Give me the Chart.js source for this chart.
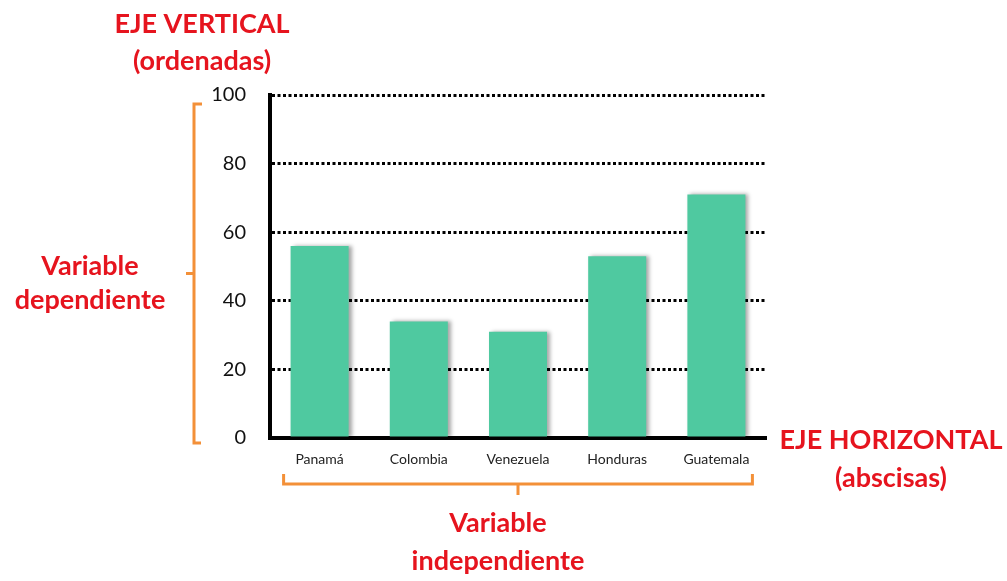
<!DOCTYPE html>
<html lang="es">
<head>
<meta charset="utf-8">
<title>Ejes de un gráfico de barras</title>
<script src="https://cdn.jsdelivr.net/npm/chart.js@4"></script>
<style>
  html, body { margin: 0; padding: 0; background: #fff; }
  #wrap { position: relative; width: 1007px; height: 581px; }
</style>
</head>
<body>
<div id="wrap"><canvas id="chart"></canvas></div>
<script>
// Data
const countries = ['Panamá', 'Colombia', 'Venezuela', 'Honduras', 'Guatemala'];
const values = [56, 34, 31, 53, 71];
const yTicks = [0, 20, 40, 60, 80, 100];

const RED = '#e6141e';
const ORANGE = '#f39038';
const BAR = '#4fc9a0';

// Soft shadow on the right side of each bar
const barShadow = {
    id: 'barShadow',
    beforeDatasetsDraw(chart) {
        const ctx = chart.ctx;
        ctx.save();
        ctx.shadowColor = 'rgba(0,0,0,0.35)';
        ctx.shadowBlur = 4;
        ctx.shadowOffsetX = 3;
        ctx.shadowOffsetY = 0;
    },
    afterDatasetsDraw(chart) {
        chart.ctx.restore();
    }
};

// Red labels and orange brackets around the axes
const axisNotes = {
    id: 'axisNotes',
    afterDraw(chart) {
        const ctx = chart.ctx;
        const x = chart.scales.x;
        const y = chart.scales.y;

        ctx.save();
        ctx.fillStyle = RED;
        ctx.textAlign = 'center';
        ctx.textBaseline = 'middle';
        ctx.font = 'bold 27px Lato, "Open Sans", sans-serif';

        const lines = [
            ['EJE VERTICAL', 202, 24],
            ['(ordenadas)', 202, 61],
            ['Variable', 90, 266],
            ['dependiente', 90, 300],
            ['EJE HORIZONTAL', 891, 440],
            ['(abscisas)', 891, 478],
            ['Variable', 498, 523],
            ['independiente', 498, 561]
        ];
        lines.forEach(([text, tx, ty]) => ctx.fillText(text, tx, ty));

        // vertical bracket next to the value axis
        ctx.strokeStyle = ORANGE;
        ctx.lineWidth = 3;
        const bx = 194;
        const top = y.getPixelForValue(100) + 9;
        const bottom = y.getPixelForValue(0) + 5;
        const mid = (top + bottom) / 2;
        ctx.beginPath();
        ctx.moveTo(bx + 8, top);
        ctx.lineTo(bx, top);
        ctx.lineTo(bx, bottom);
        ctx.lineTo(bx + 7, bottom);
        ctx.moveTo(bx, mid);
        ctx.lineTo(bx - 8, mid);
        ctx.stroke();

        // horizontal bracket under the category labels
        const by = 484;
        const left = x.getPixelForValue(0) - 36;
        const right = x.getPixelForValue(countries.length - 1) + 36;
        const cx = (left + right) / 2;
        ctx.beginPath();
        ctx.moveTo(left, by - 10);
        ctx.lineTo(left, by);
        ctx.lineTo(right, by);
        ctx.lineTo(right, by - 10);
        ctx.moveTo(cx, by);
        ctx.lineTo(cx, by + 11);
        ctx.stroke();
        ctx.restore();
    }
};

new Chart(document.getElementById('chart'), {
    type: 'bar',
    data: {
        labels: countries,
        datasets: [{
            data: values,
            backgroundColor: BAR,
            borderWidth: 0,
            barPercentage: 0.585,
            categoryPercentage: 1
        }]
    },
    options: {
        responsive: true,
        maintainAspectRatio: false,
        animation: false,
        layout: {
            padding: { top: 95, right: 241, bottom: 0, left: 0 }
        },
        plugins: {
            legend: { display: false },
            tooltip: { enabled: false }
        },
        scales: {
            x: {
                grid: { display: false, drawTicks: false },
                border: { display: true, color: '#000', width: 4 },
                ticks: {
                    color: '#222',
                    padding: 13,
                    font: { family: 'Lato, "Open Sans", sans-serif', size: 14 }
                },
                afterFit(scale) { scale.height = 143; }
            },
            y: {
                min: 0,
                max: 100,
                afterBuildTicks(scale) {
                    scale.ticks = yTicks.map(v => ({ value: v }));
                },
                grid: {
                    color: '#000',
                    lineWidth: 3,
                    drawTicks: false
                },
                border: { display: true, color: '#000', width: 4, dash: [3, 2.5] },
                ticks: {
                    color: '#111',
                    padding: 24,
                    font: { family: 'Lato, "Open Sans", sans-serif', size: 20 }
                },
                afterFit(scale) { scale.width = 270; }
            }
        }
    },
    plugins: [barShadow, axisNotes]
});
</script>
</body>
</html>
